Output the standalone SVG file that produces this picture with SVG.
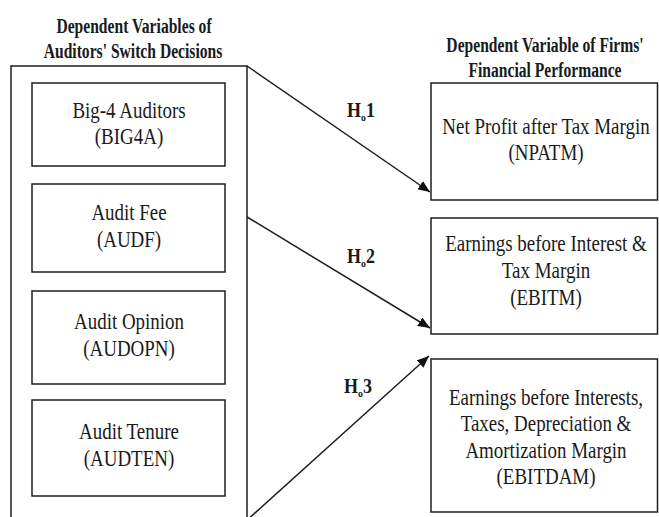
<svg xmlns="http://www.w3.org/2000/svg" width="659" height="517" viewBox="0 0 659 517">
<style>
  .box { fill: #ffffff; stroke: #1e1e1e; stroke-width: 1.5; }
  .t { font-family: "Liberation Serif", "Times New Roman", serif; font-size: 24px; fill: #1a1a1a; text-anchor: middle; }
  .h { font-family: "Liberation Serif", "Times New Roman", serif; font-size: 22px; font-weight: bold; fill: #1a1a1a; text-anchor: middle; }
  .lab { font-family: "Liberation Serif", "Times New Roman", serif; font-size: 20px; font-weight: bold; fill: #1a1a1a; }
  .sub { font-size: 11px; }
  .conn { stroke: #1e1e1e; stroke-width: 1.5; fill: none; marker-end: url(#arrow); }
</style>
<defs>
  <marker id="arrow" viewBox="0 0 12 10" refX="12" refY="5" markerWidth="12" markerHeight="10" markerUnits="userSpaceOnUse" orient="auto">
    <path d="M0,0 L12,5 L0,10 Z" fill="#111"/>
  </marker>
</defs>
<rect width="659" height="517" fill="#ffffff"/>

<g id="left-title">
  <text class="h" transform="translate(134 0) scale(0.71 1)" y="33">Dependent Variables of</text>
  <text class="h" transform="translate(133 0) scale(0.71 1)" y="58">Auditors' Switch Decisions</text>
</g>
<g id="right-title">
  <text class="h" transform="translate(545 0) scale(0.71 1)" y="52">Dependent Variable of Firms'</text>
  <text class="h" transform="translate(545 0) scale(0.71 1)" y="77">Financial Performance</text>
</g>

<g id="switch-decisions">
  <path class="box" d="M11,525 V66 H247 V525"/>
</g>

<g id="big4a">
  <rect class="box" x="32" y="83" width="193" height="83"/>
  <text class="t" transform="translate(129 0) scale(0.79 1)" y="118">Big-4 Auditors</text>
  <text class="t" transform="translate(129 0) scale(0.79 1)" y="144">(BIG4A)</text>
</g>
<g id="audf">
  <rect class="box" x="32" y="184" width="193" height="88"/>
  <text class="t" transform="translate(129 0) scale(0.79 1)" y="220">Audit Fee</text>
  <text class="t" transform="translate(129 0) scale(0.79 1)" y="247">(AUDF)</text>
</g>
<g id="audopn">
  <rect class="box" x="32" y="291" width="193" height="93"/>
  <text class="t" transform="translate(129 0) scale(0.79 1)" y="329">Audit Opinion</text>
  <text class="t" transform="translate(129 0) scale(0.79 1)" y="356">(AUDOPN)</text>
</g>
<g id="audten">
  <rect class="box" x="32" y="400" width="193" height="96"/>
  <text class="t" transform="translate(129 0) scale(0.79 1)" y="439">Audit Tenure</text>
  <text class="t" transform="translate(129 0) scale(0.79 1)" y="466">(AUDTEN)</text>
</g>

<g id="npatm">
  <rect class="box" x="431" y="83" width="226.5" height="117"/>
  <text class="t" transform="translate(546 0) scale(0.79 1)" y="134">Net Profit after Tax Margin</text>
  <text class="t" transform="translate(546 0) scale(0.79 1)" y="160">(NPATM)</text>
</g>
<g id="ebitm">
  <rect class="box" x="431" y="218" width="226.5" height="116"/>
  <text class="t" transform="translate(546 0) scale(0.79 1)" y="251">Earnings before Interest &amp;</text>
  <text class="t" transform="translate(546 0) scale(0.79 1)" y="278">Tax Margin</text>
  <text class="t" transform="translate(546 0) scale(0.79 1)" y="305">(EBITM)</text>
</g>
<g id="ebitdam">
  <rect class="box" x="431" y="359" width="226.5" height="153"/>
  <text class="t" transform="translate(546 0) scale(0.79 1)" y="405">Earnings before Interests,</text>
  <text class="t" transform="translate(546 0) scale(0.79 1)" y="431">Taxes, Depreciation &amp;</text>
  <text class="t" transform="translate(546 0) scale(0.79 1)" y="458">Amortization Margin</text>
  <text class="t" transform="translate(546 0) scale(0.79 1)" y="484">(EBITDAM)</text>
</g>

<g id="connectors">
  <line class="conn" x1="247" y1="66" x2="430" y2="192"/>
  <line class="conn" x1="247" y1="217" x2="430" y2="328"/>
  <line class="conn" x1="245" y1="522" x2="429" y2="356"/>
  <text class="lab" transform="translate(347 0) scale(0.9 1)" y="117">H<tspan class="sub" dy="4">o</tspan><tspan dy="-4">1</tspan></text>
  <text class="lab" transform="translate(347 0) scale(0.9 1)" y="263">H<tspan class="sub" dy="4">o</tspan><tspan dy="-4">2</tspan></text>
  <text class="lab" transform="translate(344 0) scale(0.9 1)" y="393">H<tspan class="sub" dy="4">o</tspan><tspan dy="-4">3</tspan></text>
</g>
</svg>
